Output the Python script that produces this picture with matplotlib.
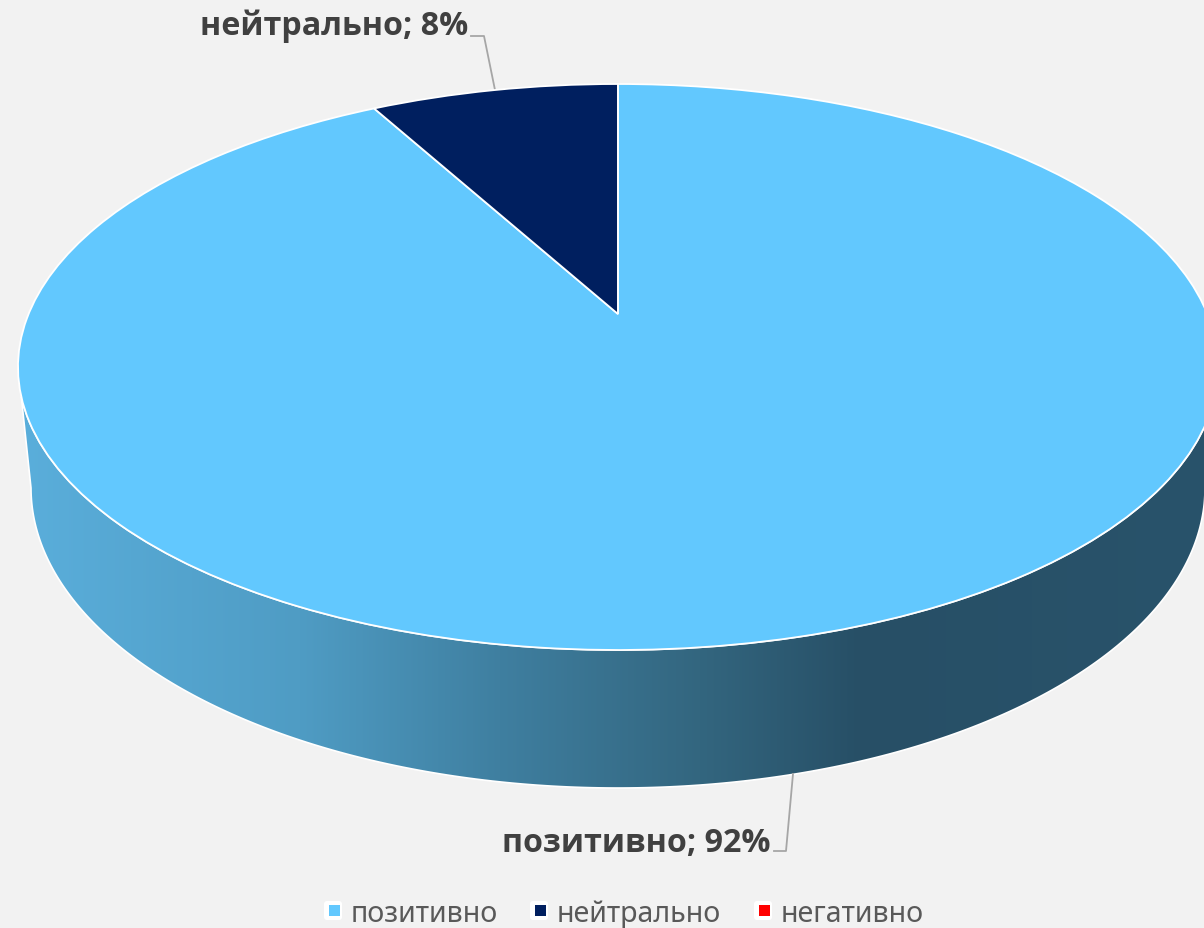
import numpy as np
import matplotlib
matplotlib.use("Agg")
import matplotlib.pyplot as plt
from matplotlib.transforms import Transform
from matplotlib.patches import FancyBboxPatch, Rectangle, Polygon

categories = ["позитивно", "нейтрально", "негативно"]
shares = [92, 8, 0]
colors = ["#62c8fe", "#001f5f", "#ff0000"]
gradient_x = [22, 300, 500, 700, 860, 1204]
gradient_colors = ["#5aaedb", "#4f9cc4", "#3f7fa0", "#33667f", "#274f66", "#29536b"]

W, H = 1204, 929
BG = "#f2f2f2"
CX, CY, RX, RY = 618, 368, 600, 283
APEX_Y = 315
BCY, BRX, BRY = 489, 587, 300
K = (CY - APEX_Y) / RY
A = RX * np.sqrt(1 - K ** 2)


class Perspective(Transform):
    """Tilted-disc projection of the unit pie onto the picture."""
    input_dims = output_dims = 2
    is_affine = False
    has_inverse = False

    def transform_non_affine(self, xy):
        xy = np.asarray(xy, float)
        u, v = xy[:, 0], xy[:, 1]
        w = 1 + K * v
        return np.column_stack([CX + A * u / w,
                                CY - (RY * v + (CY - APEX_Y)) / w])


fig = plt.figure(figsize=(W / 100, H / 100), dpi=100, facecolor=BG)
ax = fig.add_axes([0, 0, 1, 1], facecolor=BG)

wedges, _ = ax.pie(shares, colors=colors, startangle=90, counterclock=False,
                   wedgeprops=dict(edgecolor="white", linewidth=1.3))
ax.set_aspect("auto")
for w in wedges:
    w.set_transform(Perspective() + ax.transData)
    w.set_zorder(4)

# side wall with horizontal shading
t = np.linspace(0, np.pi, 240)
top_x = CX + RX * np.cos(t)
top_y = CY + RY * np.sin(t)
keep = top_y >= CY + 27
wall = np.vstack([np.column_stack([top_x[keep], top_y[keep]]),
                  np.column_stack([CX + BRX * np.cos(t), BCY + BRY * np.sin(t)])[::-1]])
xs = np.arange(W)
stops = np.array([matplotlib.colors.to_rgb(c) for c in gradient_colors])
rgb = np.column_stack([np.interp(xs, gradient_x, stops[:, i]) for i in range(3)])
img = ax.imshow(rgb[None, :, :], extent=(0, W, H, 0), aspect="auto", zorder=2,
                interpolation="bilinear")
clip = Polygon(wall, closed=True, transform=ax.transData)
img.set_clip_path(clip)
ax.add_patch(Polygon(wall, closed=True, fill=False, edgecolor="white",
                     linewidth=1.2, zorder=3))

ax.set_xlim(0, W)
ax.set_ylim(H, 0)
ax.axis("off")

LABEL_FONT = "Open Sans"
LEGEND_FONT = "Noto Sans"
LABEL = "#404040"
labels = [f"{c}; {s}%" for c, s in zip(categories, shares)]
ax.text(770, 852, labels[0], ha="right", va="baseline", fontsize=23.2,
        fontweight="bold", family=LABEL_FONT, color=LABEL, zorder=6)
ax.text(468, 35, labels[1], ha="right", va="baseline", fontsize=23.2,
        fontweight="bold", family=LABEL_FONT, color=LABEL, zorder=6)
ax.plot([774, 786, 793], [852, 852, 775], color="#a6a6a6", lw=1.3, zorder=5)
ax.plot([471, 484, 495], [37, 37, 91], color="#a6a6a6", lw=1.3, zorder=3.5)

# legend
legend_x = [324, 530, 754]
text_x = [351, 557, 781]
for x0, tx, name, col in zip(legend_x, text_x, categories, colors):
    ax.add_patch(FancyBboxPatch((x0 + 2, 904), 14, 15, boxstyle="round,pad=2,rounding_size=3",
                                facecolor="white", edgecolor="none", zorder=5))
    ax.add_patch(Rectangle((x0 + 5, 906), 11, 11, facecolor=col, edgecolor="none", zorder=6))
    ax.text(tx, 922, name, ha="left", va="baseline", fontsize=20.6, family=LEGEND_FONT,
            color="#595959", zorder=6)

fig.savefig("out.png", dpi=100, facecolor=BG)
